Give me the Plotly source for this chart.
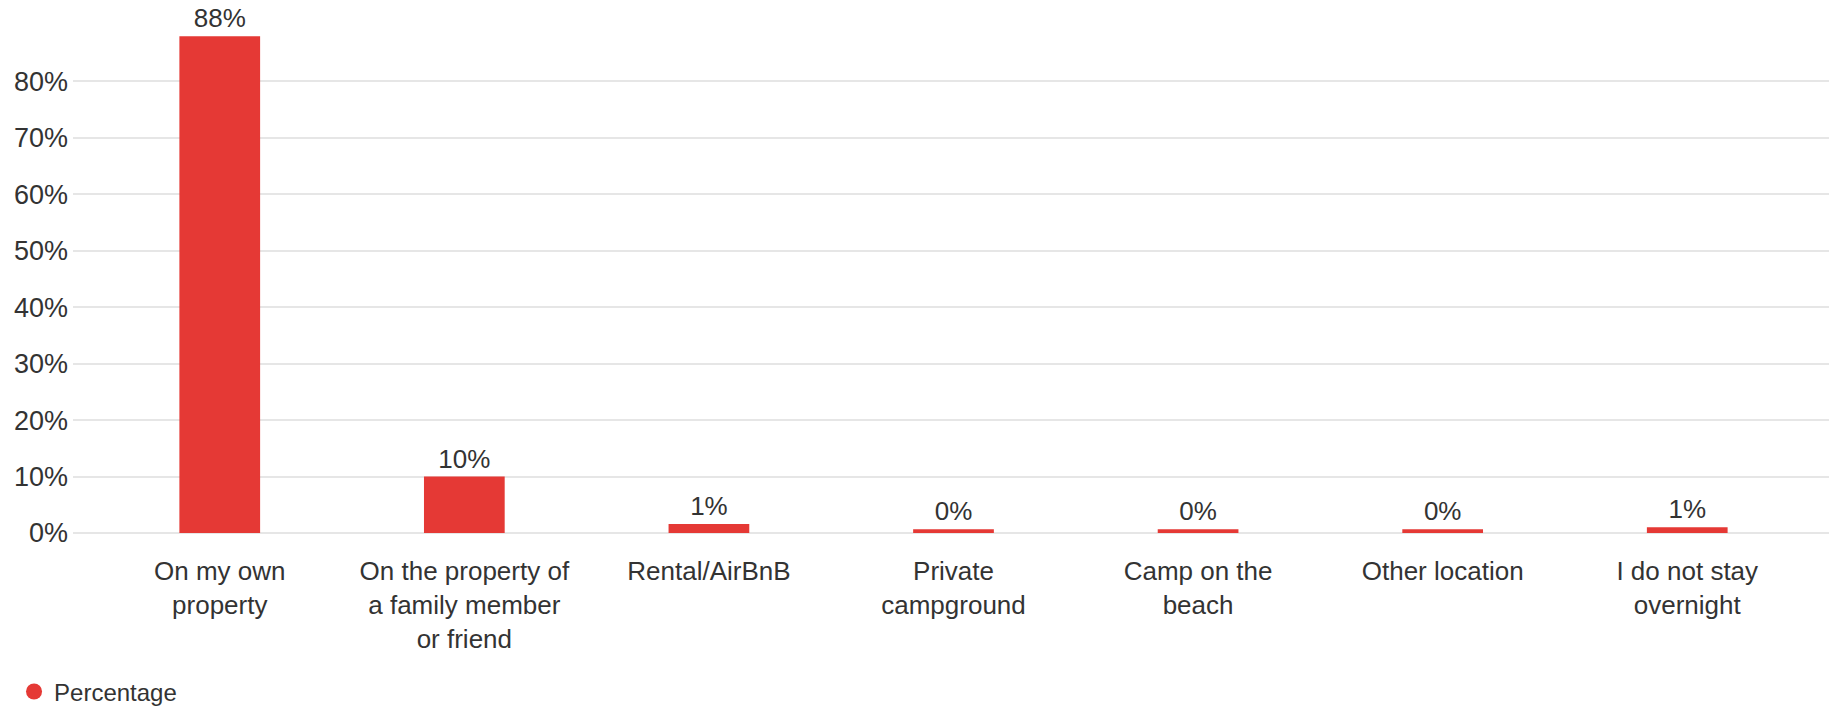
import plotly.graph_objects as go

# categories, bar heights and the printed labels
categories = [
    "On my own<br>property",
    "On the property of<br>a family member<br>or friend",
    "Rental/AirBnB",
    "Private<br>campground",
    "Camp on the<br>beach",
    "Other location",
    "I do not stay<br>overnight",
]
percentage = [88, 10, 1.6, 0.65, 0.65, 0.65, 1.0]
value_labels = ["88%", "10%", "1%", "0%", "0%", "0%", "1%"]
y_ticks = [0, 10, 20, 30, 40, 50, 60, 70, 80]

RED = "#e53935"
TEXT = "#333333"
FONT = "Liberation Sans, Arial, sans-serif"

fig = go.Figure()
fig.add_trace(go.Bar(
    x=categories,
    y=percentage,
    text=value_labels,
    textposition="outside",
    textfont=dict(size=26, color=TEXT),
    cliponaxis=False,
    marker=dict(color=RED, line=dict(width=0)),
    showlegend=False,
    hoverinfo="skip",
))
# legend entry with a round marker
fig.add_trace(go.Scatter(
    x=[None], y=[None], mode="markers", name="Percentage",
    marker=dict(color=RED, size=16, symbol="circle"),
))

# the page body adds an 8px margin, so the figure is sized to fit the window
fig.update_layout(
    width=1829, height=700,
    margin=dict(l=65, r=3, t=17, b=175, autoexpand=False),
    paper_bgcolor="white", plot_bgcolor="white",
    font=dict(family=FONT, size=26, color=TEXT),
    bargap=0.67,
    showlegend=True,
    legend=dict(
        orientation="h", xref="container", yref="container",
        x=0.0033, y=0.023, xanchor="left", yanchor="middle",
        font=dict(size=24, color=TEXT), itemsizing="trace",
    ),
)
fig.update_xaxes(
    range=[-0.6, 6.6], showgrid=False, zeroline=False, showline=False,
    ticks="outside", ticklen=15, tickcolor="rgba(0,0,0,0)",
    tickfont=dict(size=26, color=TEXT), automargin=False,
)
fig.update_yaxes(
    range=[0, 90], tickvals=y_ticks, ticktext=[f"{v}%" for v in y_ticks],
    showgrid=True, gridcolor="#e6e6e6", gridwidth=1.5,
    zeroline=True, zerolinecolor="#e6e6e6", zerolinewidth=1.5,
    showline=False, ticks="", ticklabelstandoff=4,
    tickfont=dict(size=27, color=TEXT), automargin=False,
)

fig.write_html("out.html")
